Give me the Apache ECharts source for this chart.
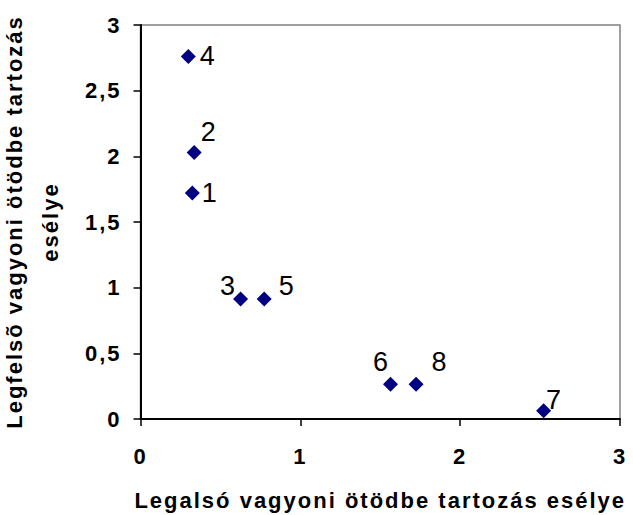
<!DOCTYPE html>
<html><head><meta charset="utf-8">
<script src="https://cdn.jsdelivr.net/npm/echarts@6/dist/echarts.min.js"></script>
<style>
html,body{margin:0;padding:0;background:#fff}
#c{width:633px;height:515px}
#c text[style*="bold"], #c text[font-weight="bold"] { letter-spacing: 2px; }
</style>
</head><body><div id="c"></div>
<script>
const pointLabels = ['1','2','3','4','5','6','7','8'];
const xValues = [0.324, 0.336, 0.626, 0.299, 0.774, 1.564, 2.522, 1.724];
const yValues = [1.72, 2.03, 0.914, 2.76, 0.914, 0.264, 0.063, 0.264];
const xTicks = [0, 1, 2, 3];
const yTicks = ['0', '0,5', '1', '1,5', '2', '2,5', '3'];
const xTitle = 'Legalsó vagyoni ötödbe tartozás esélye';
const yTitle = 'Legfelsõ vagyoni ötödbe tartozás\nesélye';

const labelOffsets = {
  '1': [17, 0], '2': [14, -20], '3': [-13, -13], '4': [19, -1],
  '5': [22, -13], '6': [-10, -22], '7': [10, -11], '8': [23, -22]
};
const FONT = 'Liberation Sans, Arial, sans-serif';
const data = pointLabels.map((n, i) => ({
  value: [xValues[i], yValues[i]],
  name: n,
  label: { offset: labelOffsets[n] }
}));

const chart = echarts.init(document.getElementById('c'), null, { renderer: 'svg' });
chart.setOption({
  animation: false,
  grid: { left: 140.5, right: 13, top: 25, bottom: 96, containLabel: false, outerBoundsMode: 'none',
          show: true, borderColor: '#808080', borderWidth: 1.5, backgroundColor: '#fff' },
  xAxis: {
    type: 'value', min: 0, max: 3, interval: 1,
    name: xTitle, nameLocation: 'middle', nameGap: 70,
    nameTextStyle: { fontFamily: FONT, fontWeight: 'bold', fontSize: 22, color: '#000' },
    axisLine: { show: true, lineStyle: { color: '#000', width: 2 } },
    axisTick: { show: true, length: 7, lineStyle: { color: '#000', width: 1.5 } },
    axisLabel: { fontFamily: FONT, fontWeight: 'bold', fontSize: 22, color: '#000', margin: 26,
      formatter: v => String(xTicks[Math.round(v)]) },
    splitLine: { show: false }
  },
  yAxis: {
    type: 'value', min: 0, max: 3, interval: 0.5,
    name: yTitle, nameLocation: 'middle', nameGap: 72, nameRotate: 90,
    nameTextStyle: { fontFamily: FONT, fontWeight: 'bold', fontSize: 22, color: '#000', lineHeight: 36 },
    axisLine: { show: true, lineStyle: { color: '#000', width: 2 } },
    axisTick: { show: true, length: 7, lineStyle: { color: '#000', width: 1.5 } },
    axisLabel: { fontFamily: FONT, fontWeight: 'bold', fontSize: 22, color: '#000', margin: 19,
      formatter: v => yTicks[Math.round(v * 2)] },
    splitLine: { show: false }
  },
  series: [{
    type: 'scatter',
    symbol: 'diamond',
    symbolSize: 15,
    itemStyle: { color: '#000080', opacity: 1 },
    emphasis: { disabled: true },
    label: {
      show: true, position: 'inside',
      formatter: p => p.name,
      fontFamily: FONT, fontSize: 27, color: '#000'
    },
    data: data
  }]
});
</script></body></html>
